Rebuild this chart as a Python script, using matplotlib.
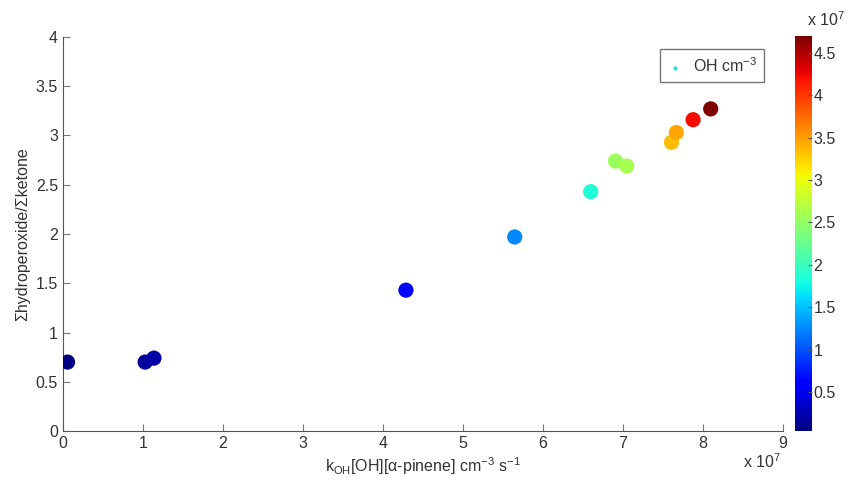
import numpy as np
import matplotlib
matplotlib.use('Agg')
import matplotlib.pyplot as plt

plt.rcParams['font.family'] = ['Liberation Sans', 'DejaVu Sans']
plt.rcParams['mathtext.fontset'] = 'custom'
plt.rcParams['mathtext.rm'] = 'Liberation Sans'
plt.rcParams['mathtext.it'] = 'Liberation Sans'

# x: k_OH[OH][a-pinene] in units of 1e7, y: ratio, c: OH in units of 1e7
k_oh_rate = [0.06, 1.03, 1.14, 4.29, 5.65, 6.60, 6.91, 7.05, 7.61, 7.67, 7.88, 8.10]
ratio = [0.70, 0.70, 0.74, 1.43, 1.97, 2.43, 2.74, 2.69, 2.93, 3.03, 3.16, 3.27]
oh_conc = [0.04, 0.15, 0.22, 0.65, 1.25, 1.85, 2.55, 2.62, 3.35, 3.45, 4.22, 4.70]

xticks = list(range(0, 10))
yticks = [0, 0.5, 1, 1.5, 2, 2.5, 3, 3.5, 4]
cticks = [0.5, 1, 1.5, 2, 2.5, 3, 3.5, 4, 4.5]

grey = '#333333'
fig = plt.figure(figsize=(8.48, 4.8), dpi=100)
ax = fig.add_axes([0.074, 0.102, 0.849, 0.821])
cax = fig.add_axes([0.9375, 0.102, 0.02, 0.823])

sc = ax.scatter(k_oh_rate, ratio, c=oh_conc, cmap='jet', vmin=min(oh_conc), vmax=max(oh_conc),
                s=120, edgecolors='none', zorder=3)
ax.scatter([], [], c='#20e0e0', s=4, label='OH cm$^{-3}$')

ax.set_xlim(0, 9)
ax.set_ylim(0, 4)
ax.set_xticks(xticks)
ax.set_yticks(yticks)
ax.set_yticklabels(['0', '0.5', '1', '1.5', '2', '2.5', '3', '3.5', '4'])
for s in ['top', 'right']:
    ax.spines[s].set_visible(False)
for s in ['left', 'bottom']:
    ax.spines[s].set_color('#555555')
ax.tick_params(direction='in', length=5, colors='#777777', labelcolor=grey, labelsize=11.5)
ax.set_xlabel('k$_{\\mathregular{OH}}$[OH][\u03b1-pinene] cm$^{-3}$ s$^{-1}$', fontsize=11.5, color=grey, labelpad=3)
ax.set_ylabel('\u03a3hydroperoxide/\u03a3ketone', fontsize=11.5, color=grey, labelpad=4)
fig.text(0.921, 0.025, 'x 10$^{7}$', fontsize=11.5, color=grey, ha='right')
leg = ax.legend(loc='upper right', bbox_to_anchor=(0.985, 0.99), fontsize=11.5, frameon=True,
                fancybox=False, edgecolor='#555555', handlelength=1, handletextpad=0.6,
                borderpad=0.45, markerscale=1)
for t in leg.get_texts():
    t.set_color(grey)

cb = fig.colorbar(sc, cax=cax, ticks=cticks)
cb.ax.set_yticklabels(['0.5', '1', '1.5', '2', '2.5', '3', '3.5', '4', '4.5'])
cb.outline.set_visible(False)
cb.ax.tick_params(direction='in', length=3, colors='#555555', labelcolor=grey, labelsize=11.5, pad=1)
fig.text(0.997, 0.945, 'x 10$^{7}$', fontsize=11.5, color=grey, ha='right')

fig.savefig('out.png', dpi=100, facecolor='white')
